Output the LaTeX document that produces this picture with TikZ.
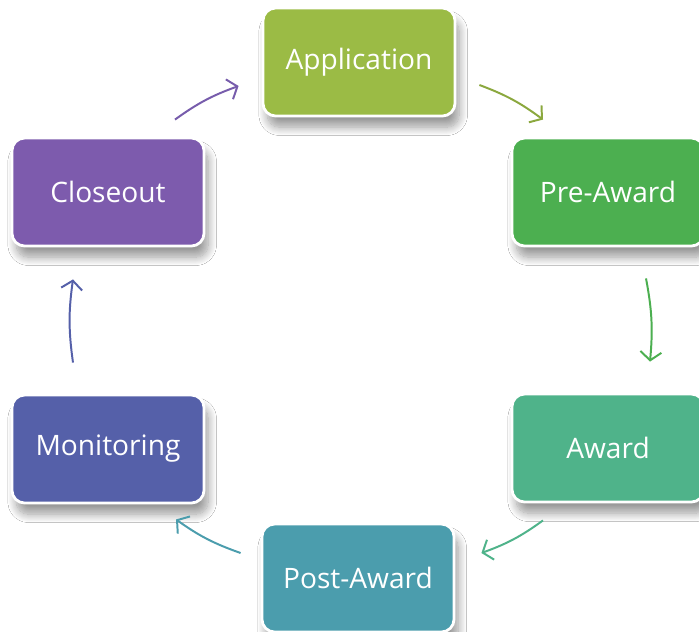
\documentclass[tikz,border=0pt]{standalone}
\usepackage{fontspec}
\setmainfont{Open Sans}
\usetikzlibrary{arrows.meta,shadows.blur}

\definecolor{appcol}{HTML}{9BBB45}
\definecolor{precol}{HTML}{4CAF50}
\definecolor{awdcol}{HTML}{4FB38A}
\definecolor{postcol}{HTML}{4B9DAD}
\definecolor{moncol}{HTML}{5560A9}
\definecolor{clocol}{HTML}{7D5BAD}

\begin{document}
\begin{tikzpicture}[x=0.025cm,y=-0.025cm,
    stage/.style={draw=white,line width=2pt,rounded corners=9pt,
      minimum width=4.8cm,minimum height=2.7cm,text=white,
      font=\fontsize{20}{24}\selectfont,
      blur shadow={shadow xshift=3pt,shadow yshift=-8pt,shadow opacity=40,shadow blur radius=6pt,shadow blur steps=12}},
    flow/.style={line width=1.4pt,-{Straight Barb[length=6pt,width=15pt]}}]
  \useasboundingbox (0,0) rectangle (699,632);
  \fill[white] (0,0) rectangle (699,632);
  % the six stages
  \node[stage,fill=appcol] (app) at (359,62) {Application};
  \node[stage,fill=precol] (pre) at (608,192) {Pre-Award};
  \node[stage,fill=awdcol] (awd) at (608,448) {Award};
  \node[stage,fill=postcol] (post) at (358,578) {Post-Award};
  \node[stage,fill=moncol] (mon) at (108,449) {Monitoring};
  \node[stage,fill=clocol] (clo) at (108,192) {Closeout};
  % arrows round the cycle
  \draw[flow,appcol!90!black] ([shift={(23,23)}]app.east) to[bend left=8] ([shift={(-65,-17)}]pre.north);
  \draw[flow,precol] ([shift={(38,31)}]pre.south) to[bend left=8] ([shift={(42,-31)}]awd.north);
  \draw[flow,awdcol] ([shift={(-65,17)}]awd.south) to[bend left=8] ([shift={(26,-25)}]post.east);
  \draw[flow,postcol] ([shift={(-20,-25)}]post.west) to[bend left=8] ([shift={(68,15)}]mon.south);
  \draw[flow,moncol] ([shift={(-35,-31)}]mon.north) to[bend left=8] ([shift={(-35,32)}]clo.south);
  \draw[flow,clocol!85!moncol] ([shift={(67,-17)}]clo.north) to[bend left=8] ([shift={(-23,24)}]app.west);
\end{tikzpicture}
\end{document}
